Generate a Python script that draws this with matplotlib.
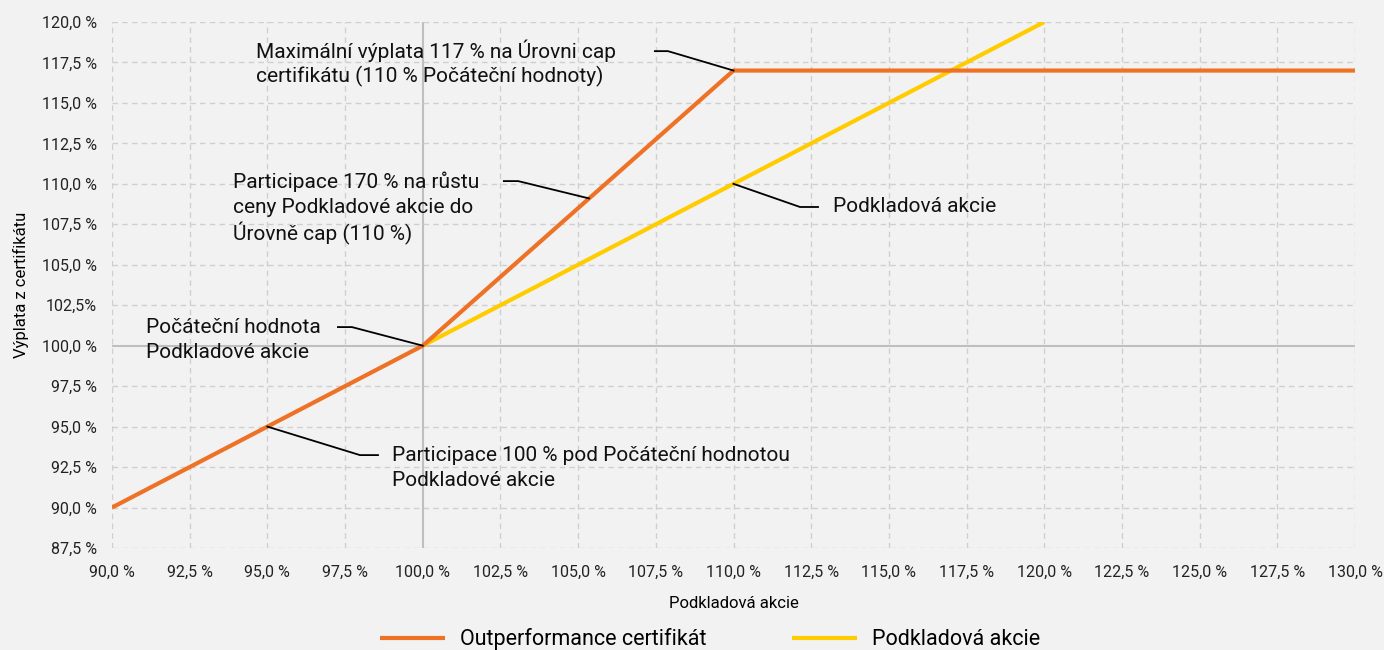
import matplotlib
matplotlib.use('Agg')
import matplotlib.pyplot as plt
from matplotlib.transforms import ScaledTranslation

plt.rcParams['font.family'] = ['Roboto', 'DejaVu Sans']

# data
cert_x = [90, 100, 110, 130]
cert_y = [90, 100, 117, 117]
stock_x = [100, 120]
stock_y = [100, 120]

x_ticks = [90 + 2.5 * i for i in range(17)]
y_ticks = [87.5 + 2.5 * i for i in range(14)]
x_labels = ['90,0 %', '92,5 %', '95,0 %', '97,5 %', '100,0 %', '102,5 %', '105,0 %', '107,5 %',
            '110,0 %', '112,5 %', '115,0 %', '117,5 %', '120,0 %', '122,5 %', '125,0 %', '127,5 %', '130,0 %']
y_labels = ['87,5 %', '90,0 %', '92,5 %', '95,0 %', '97,5 %', '100,0 %', '102,5%', '105,0 %',
            '107,5 %', '110,0 %', '112,5 %', '115,0 %', '117,5 %', '120,0 %']

# annotations: text lines, first line position, leader polyline
notes = [
    (['Maximální výplata 117 % na Úrovni cap', 'certifikátu (110 % Počáteční hodnoty)'], (94.65, 118.2),
     [(107.47, 118.2), (107.89, 118.2), (110, 117)]),
    (['Participace 170 % na růstu', 'ceny Podkladové akcie do', 'Úrovně cap (110 %)'], (93.9, 110.1),
     [(102.61, 110.17), (103.07, 110.17), (105.35, 109.1)]),
    (['Podkladová akcie'], (113.2, 108.57),
     [(110, 110), (112.14, 108.57), (112.72, 108.57)]),
    (['Počáteční hodnota', 'Podkladové akcie'], (91.1, 101.15),
     [(97.27, 101.15), (97.72, 101.15), (100, 100)]),
    (['Participace 100 % pod Počáteční hodnotou', 'Podkladové akcie'], (99.0, 93.24),
     [(95, 95), (97.98, 93.24), (98.56, 93.24)]),
]

orange = '#EE7125'
yellow = '#FFCC00'
bg = '#F2F2F2'

fig = plt.figure(figsize=(13.84, 6.5), dpi=100, facecolor=bg)
ax = fig.add_axes([112 / 1384, 1 - 548 / 650, (1355 - 112) / 1384, (548 - 22) / 650])
ax.set_facecolor(bg)

ax.set_xlim(90, 130)
ax.set_ylim(87.5, 120)
ax.set_xticks(x_ticks)
ax.set_xticklabels(x_labels)
ax.set_yticks(y_ticks)
ax.set_yticklabels(y_labels)
ax.tick_params(length=0, labelsize=11.5, colors='#222222')
ax.tick_params(axis='y', pad=11)
ax.tick_params(axis='x', pad=12)
for s in ax.spines.values():
    s.set_visible(False)

for xv in x_ticks:
    if xv == 100:
        ax.axvline(xv, color='#BFBFBF', lw=1.5, zorder=1)
    else:
        ax.axvline(xv, color='#CFCFCF', lw=1, ls=(0, (4, 3)), zorder=1)
for yv in y_ticks:
    if yv == 100:
        ax.axhline(yv, color='#BFBFBF', lw=1.5, zorder=1)
    else:
        ax.axhline(yv, color='#CFCFCF', lw=1, ls=(0, (4, 3)), zorder=1)

ax.plot(stock_x, stock_y, color=yellow, lw=3, zorder=3, label='Podkladová akcie', solid_capstyle='butt')
ax.plot(cert_x, cert_y, color=orange, lw=3, zorder=4, label='Outperformance certifikát', solid_capstyle='butt')

line_step = 0.255  # inches between text lines
for lines, pos, leader in notes:
    for i, line in enumerate(lines):
        tr = ax.transData + ScaledTranslation(0, -i * line_step, fig.dpi_scale_trans)
        ax.text(pos[0], pos[1], line, fontsize=15, va='center', ha='left', color='#111111',
                transform=tr, zorder=5)
    xs = [p[0] for p in leader]
    ys = [p[1] for p in leader]
    ax.plot(xs, ys, color='black', lw=1.3, zorder=5)

ax.set_xlabel('Podkladová akcie', fontsize=12, labelpad=12)
ax.set_ylabel('Výplata z certifikátu', fontsize=12, labelpad=9)

handles, labels = ax.get_legend_handles_labels()
fig.legend(handles[::-1], labels[::-1], loc='lower center', bbox_to_anchor=(0.513, -0.03), ncol=2,
           frameon=False, fontsize=15.5, handlelength=3, columnspacing=4.0, handletextpad=0.7)

fig.savefig('out.png', dpi=100, facecolor=bg)
